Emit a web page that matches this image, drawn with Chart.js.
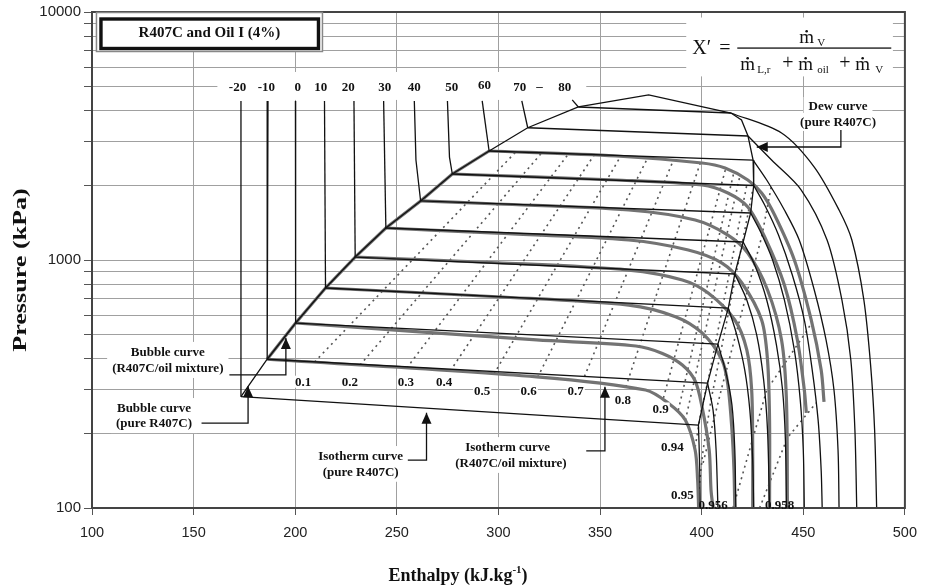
<!DOCTYPE html>
<html>
<head>
<meta charset="utf-8">
<script src="https://cdn.jsdelivr.net/npm/chart.js@4.4.1/dist/chart.umd.min.js"></script>
<style>
  html, body { margin: 0; padding: 0; background: #fff; }
  #wrap { width: 926px; height: 588px; }
</style>
</head>
<body>
<div id="wrap"><canvas id="chart" width="926" height="588"></canvas></div>
<script>
// ---- data: enthalpy (kJ/kg), pressure (kPa) ----
var temperatures = [-20, -10, 0, 10, 20, 30, 40, 50, 60, 70, 80];
var xTicks = [100, 150, 200, 250, 300, 350, 400, 450, 500];
var yGrid = [100, 200, 300, 400, 500, 600, 700, 800, 900,
             1000, 2000, 3000, 4000, 5000, 6000, 7000, 8000, 9000, 10000];
var yLabels = [100, 1000, 10000];

// pure R407C bubble points, one per temperature
var bubblePoints = [[173.3, 281], [186.2, 398], [200.2, 557], [214.9, 771], [229.5, 1028], [244.6, 1346],
                    [261.7, 1730], [277.3, 2222], [295.4, 2751], [314.4, 3414], [339.3, 4140]];
var criticalPoint = [373.9, 4630];
// pure R407C dew points, one per temperature
var dewPoints = [[398.4, 216], [402.9, 319], [408.0, 458], [413.1, 640], [416.3, 878], [420.4, 1182],
                 [424.1, 1547], [425.6, 1997], [425.3, 2530], [422.8, 3162], [414.4, 3915]];
var dewShoulder = [419.6, 3669];

// subcooled liquid isotherms (from the label row down to the bubble curve)
var liquidLines = [
  [[173.3, 4380], [173.3, 281]],
  [[186.6, 4380], [186.2, 398]],
  [[200.1, 4380], [200.2, 557]],
  [[214.4, 4380], [214.9, 771]],
  [[228.9, 4380], [229.5, 1028]],
  [[243.5, 4380], [244.6, 1346]],
  [[258.6, 4380], [259.4, 2530], [261.7, 1730]],
  [[274.9, 4380], [275.9, 2600], [277.3, 2222]],
  [[292.0, 4380], [295.4, 2751]],
  [[311.5, 4380], [314.4, 3414]],
  [[336.3, 4420], [339.3, 4140]]
];

// R407C/oil mixture isotherms, -10 .. 60 C
var mixIsotherms = [
  [[186.2, 398], [318.8, 338], [372.4, 299], [383.8, 264], [392.0, 226], [396.8, 171], [398.0, 130], [398.5, 100]],
  [[200.2, 557], [318.8, 476], [367.6, 450], [380.7, 420], [390.5, 377], [396.8, 325], [400.2, 255], [403.7, 171], [404.6, 118], [405.6, 100]],
  [[214.9, 771], [299.3, 711], [364.1, 658], [387.1, 591], [400.2, 508], [410.0, 395], [412.9, 313], [414.9, 206], [415.9, 142], [416.3, 100]],
  [[229.5, 1028], [299.3, 975], [364.1, 911], [390.5, 831], [403.2, 736], [416.3, 573], [422.2, 434], [424.6, 299], [425.1, 171], [425.1, 100]],
  [[244.6, 1346], [299.3, 1282], [364.1, 1204], [393.4, 1097], [410.0, 972], [419.8, 808], [429.5, 573], [432.4, 395], [433.4, 226], [433.4, 100]],
  [[261.7, 1730], [299.3, 1682], [364.1, 1591], [396.8, 1450], [412.9, 1261], [422.7, 1067], [432.4, 757], [439.3, 476], [441.7, 273], [442.2, 100]],
  [[277.3, 2222], [357.8, 2102], [400.2, 2006], [412.9, 1863], [422.7, 1636], [431.0, 1238], [440.7, 793], [447.1, 476], [450.5, 299], [451.5, 242]],
  [[295.4, 2751], [357.8, 2627], [400.2, 2461], [411.5, 2350], [422.7, 2102], [429.5, 1863], [435.9, 1519], [445.6, 1000], [453.9, 573], [458.8, 360], [460.2, 268]]
];

// superheated vapour isotherms, -20 .. 80 C
var vaporLines = [
  [[398.4, 216], [399.0, 149], [399.3, 100]],
  [[402.9, 319], [405.6, 248], [407.1, 171], [408.0, 100]],
  [[408.0, 458], [411.9, 353], [414.9, 260], [416.3, 171], [416.8, 100]],
  [[413.1, 640], [417.3, 498], [421.2, 360], [423.7, 248], [425.1, 156], [425.6, 100]],
  [[416.3, 878], [422.2, 690], [427.1, 498], [430.5, 328], [432.4, 206], [433.4, 100]],
  [[420.4, 1182], [426.1, 955], [432.0, 690], [436.8, 454], [439.8, 299], [441.2, 188], [441.7, 100]],
  [[424.1, 1547], [429.0, 1297], [434.9, 1000], [440.7, 690], [445.6, 434], [448.5, 273], [450.0, 171], [450.5, 100]],
  [[425.6, 1997], [431.0, 1667], [437.8, 1261], [444.6, 870], [450.5, 573], [454.4, 360], [457.3, 226], [458.8, 142], [459.3, 100]],
  [[425.3, 2530], [432.0, 2102], [440.7, 1591], [448.0, 1204], [455.4, 757], [461.2, 476], [465.1, 299], [467.1, 171], [467.6, 100]],
  [[422.8, 3162], [434.4, 2530], [449.0, 1915], [461.7, 1204], [469.0, 690], [473.4, 395], [475.4, 206], [476.3, 100]],
  [[414.4, 3915], [439.3, 3252], [455.4, 2371], [467.6, 1591], [473.9, 1204], [479.8, 690], [483.2, 370], [485.1, 206], [486.1, 100]]
];

// constant quality lines X'
var qualityLines = [
  [[209.5, 388], [308.5, 2726]],
  [[231.9, 377], [321.2, 2701]],
  [[254.9, 367], [334.4, 2676]],
  [[276.3, 357], [347.1, 2651]],
  [[297.8, 347], [360.2, 2627]],
  [[319.3, 337], [373.4, 2578]],
  [[341.2, 322], [386.1, 2530]],
  [[362.7, 308], [399.3, 2461]],
  [[381.2, 278], [411.9, 2350]],
  [[388.5, 248], [415.9, 2264]],
  [[392.0, 226], [418.8, 2181]],
  [[396.8, 176], [399.8, 248], [403.2, 328], [422.2, 2006]],
  [[398.3, 113], [400.7, 171], [404.6, 273], [407.6, 360], [425.1, 1915]],
  [[400.7, 152], [410.0, 308], [429.5, 1238], [434.4, 2006]],
  [[415.4, 100], [432.0, 299], [452.0, 522], [453.9, 557]],
  [[428.5, 100], [442.2, 192], [456.3, 265]]
];
var qualityNames = ['0.1', '0.2', '0.3', '0.4', '0.5', '0.6', '0.7', '0.8', '0.9', '0.94', '0.95', '0.956', '0.958'];

// ---- styles ----
var thin = { borderColor: '#111', borderWidth: 1.3, tension: 0 };
var thinCurve = { borderColor: '#111', borderWidth: 1.3, tension: 0.3 };
var thick = { borderColor: '#737373', borderWidth: 3.2, tension: 0.3 };
var dotted = { borderColor: '#555', borderWidth: 1.6, borderDash: [2, 4], tension: 0 };

function line(pts, style) {
  return Object.assign({
    data: pts.map(function (p) { return { x: p[0], y: p[1] }; }),
    showLine: true, pointRadius: 0, fill: false
  }, style);
}

var datasets = [];
var envelope = bubblePoints.concat([criticalPoint, dewPoints[10], dewShoulder], dewPoints.slice(0, 10).reverse());
datasets.push(line(envelope, thin));
liquidLines.forEach(function (l) { datasets.push(line(l, thin)); });
temperatures.forEach(function (t, i) { datasets.push(line([bubblePoints[i], dewPoints[i]], thin)); });
vaporLines.forEach(function (l) { datasets.push(line(l, thinCurve)); });
datasets.push(line(bubblePoints.slice(1, 9), Object.assign({}, thick, { tension: 0 })));
mixIsotherms.forEach(function (l) { datasets.push(line(l, thick)); });
qualityLines.forEach(function (l) { datasets.push(line(l, dotted)); });

// ---- annotations (positions in data units) ----
var SERIF = '"Liberation Serif", "Times New Roman", serif';
var notes = [
  { t: 'Bubble curve', h: 137.3, p: 426 },
  { t: '(R407C/oil mixture)', h: 137.3, p: 367 },
  { t: 'Bubble curve', h: 130.5, p: 253 },
  { t: '(pure R407C)', h: 130.5, p: 220 },
  { t: 'Isotherm curve', h: 232.2, p: 162 },
  { t: '(pure R407C)', h: 232.2, p: 140 },
  { t: 'Isotherm curve', h: 304.5, p: 176 },
  { t: '(R407C/oil mixture)', h: 306.1, p: 152 },
  { t: 'Dew curve', h: 467.1, p: 4178, top: true },
  { t: '(pure R407C)', h: 467.1, p: 3603, top: true }
];
var arrows = [
  [[468.5, 3343], [468.5, 2855], [427.1, 2855]],
  [[167.6, 344], [195.4, 344], [195.4, 485]],
  [[153.9, 220], [176.8, 220], [176.8, 310]],
  [[255.4, 156], [264.6, 156], [264.6, 242]],
  [[343.2, 170], [352.4, 170], [352.4, 308]]
];
var tempLabelPos = [[171.6, 5000], [185.8, 5000], [201.2, 5000], [212.6, 5000], [226.1, 5000], [244.0, 5000],
                    [258.6, 5000], [277.0, 5000], [293.1, 5076], [310.5, 5000], [332.6, 5000]];
var qualityLabelPos = [[203.9, 323], [226.9, 323], [254.5, 323], [273.3, 323], [292.0, 297], [314.9, 297],
                       [338.0, 297], [361.2, 273], [379.8, 252], [385.6, 176], [390.5, 113], [405.6, 103.5], [438.3, 103.5]];

function drawArrow(ctx, pts) {
  ctx.beginPath();
  ctx.moveTo(pts[0][0], pts[0][1]);
  for (var i = 1; i < pts.length; i++) ctx.lineTo(pts[i][0], pts[i][1]);
  ctx.stroke();
  var a = pts[pts.length - 2], b = pts[pts.length - 1];
  var ang = Math.atan2(b[1] - a[1], b[0] - a[0]);
  var L = 11, W = 5;
  ctx.beginPath();
  ctx.moveTo(b[0], b[1]);
  ctx.lineTo(b[0] - L * Math.cos(ang) + W * Math.sin(ang), b[1] - L * Math.sin(ang) - W * Math.cos(ang));
  ctx.lineTo(b[0] - L * Math.cos(ang) - W * Math.sin(ang), b[1] - L * Math.sin(ang) + W * Math.cos(ang));
  ctx.closePath();
  ctx.fill();
}

function dotM(ctx, x, base, size) {
  ctx.font = size + 'px ' + SERIF;
  ctx.fillText('m', x, base);
  var w = ctx.measureText('m').width;
  ctx.beginPath();
  ctx.arc(x + w / 2, base - size * 0.62, 1.3, 0, Math.PI * 2);
  ctx.fill();
}

var overlay = {
  id: 'overlay',
  beforeDatasetsDraw: function (chart) {
    var ctx = chart.ctx, xs = chart.scales.x, ys = chart.scales.y;
    var X = function (h) { return xs.getPixelForValue(h); };
    var Y = function (p) { return ys.getPixelForValue(p); };
    ctx.save();
    ctx.fillStyle = '#fff';
    // label row and formula backgrounds
    ctx.fillRect(X(161.7), Y(5730), X(343.2) - X(161.7), Y(4420) - Y(5730));
    ctx.fillRect(X(392.4), Y(9500), X(494.1) - X(392.4), Y(5500) - Y(9500));
    ctx.font = 'bold 13px ' + SERIF;
    notes.forEach(function (n) {
      if (n.top) return;
      var w = ctx.measureText(n.t).width;
      ctx.fillRect(X(n.h) - w / 2 - 5, Y(n.p) - 10, w + 10, 20);
    });
    ctx.restore();
  },
  afterDatasetsDraw: function (chart) {
    var ctx = chart.ctx, xs = chart.scales.x, ys = chart.scales.y, a = chart.chartArea;
    var X = function (h) { return xs.getPixelForValue(h); };
    var Y = function (p) { return ys.getPixelForValue(p); };
    ctx.save();
    // frame
    ctx.strokeStyle = '#444';
    ctx.lineWidth = 2;
    ctx.strokeRect(a.left, a.top, a.right - a.left, a.bottom - a.top);

    ctx.fillStyle = '#111';
    ctx.strokeStyle = '#111';
    ctx.textAlign = 'center';
    ctx.textBaseline = 'middle';
    ctx.font = 'bold 13px ' + SERIF;

    // dew label covers the curves behind it
    notes.forEach(function (n) {
      if (!n.top) return;
      var w = ctx.measureText(n.t).width;
      ctx.fillStyle = '#fff';
      ctx.fillRect(X(n.h) - w / 2 - 5, Y(n.p) - 9, w + 10, 18);
    });
    ctx.fillStyle = '#111';
    notes.forEach(function (n) { ctx.fillText(n.t, X(n.h), Y(n.p) + 1); });

    temperatures.forEach(function (t, i) {
      ctx.fillText(String(t), X(tempLabelPos[i][0]), Y(tempLabelPos[i][1]) + 1);
    });
    ctx.fillText('\u2013', X(320.2), Y(5000));

    qualityNames.forEach(function (q, i) {
      var x = X(qualityLabelPos[i][0]), y = Y(qualityLabelPos[i][1]);
      if (i < 11) {
        var w = ctx.measureText(q).width;
        ctx.fillStyle = '#fff';
        ctx.fillRect(x - w / 2 - 1, y - 6, w + 2, 12);
        ctx.fillStyle = '#111';
      }
      ctx.fillText(q, x, y + 1);
    });

    ctx.lineWidth = 1.3;
    arrows.forEach(function (ar) {
      drawArrow(ctx, ar.map(function (p) { return [X(p[0]), Y(p[1])]; }));
    });

    // title box
    var cx = X(157.8), cy = Y(8267);
    ctx.fillStyle = '#fff';
    ctx.fillRect(cx - 113, cy - 20, 226, 39);
    ctx.strokeStyle = '#888';
    ctx.lineWidth = 1.5;
    ctx.strokeRect(cx - 113, cy - 20, 226, 39);
    ctx.strokeStyle = '#111';
    ctx.lineWidth = 3.4;
    ctx.strokeRect(cx - 108.5, cy - 13.5, 217.5, 29.5);
    ctx.fillStyle = '#111';
    ctx.font = 'bold 15px ' + SERIF;
    ctx.fillText('R407C and Oil I (4%)', cx, cy + 1);

    // formula X' = m_V / (m_L,r + m_oil + m_V)
    var fx = X(455.4), fy = Y(7157);
    ctx.textAlign = 'left';
    ctx.textBaseline = 'alphabetic';
    ctx.font = '20px ' + SERIF;
    ctx.fillText('X\u2032', fx - 122, fy + 6);
    ctx.fillText('=', fx - 95, fy + 6);
    ctx.fillRect(fx - 77, fy - 0.6, 154, 1.3);
    dotM(ctx, fx - 15, fy - 5, 19);
    ctx.font = '11px ' + SERIF;
    ctx.fillText('V', fx + 3, fy - 2);
    dotM(ctx, fx - 74, fy + 22, 19);
    ctx.font = '11px ' + SERIF;
    ctx.fillText('L,r', fx - 57, fy + 25);
    ctx.font = '20px ' + SERIF;
    ctx.fillText('+', fx - 32, fy + 21);
    dotM(ctx, fx - 16, fy + 22, 19);
    ctx.font = '11px ' + SERIF;
    ctx.fillText('oil', fx + 3, fy + 25);
    ctx.font = '20px ' + SERIF;
    ctx.fillText('+', fx + 25, fy + 21);
    dotM(ctx, fx + 41, fy + 22, 19);
    ctx.font = '11px ' + SERIF;
    ctx.fillText('V', fx + 61, fy + 25);

    // axis titles
    ctx.font = 'bold 18px ' + SERIF;
    var t1 = 'Enthalpy (kJ.kg', t3 = ')';
    var w1 = ctx.measureText(t1).width, w3 = ctx.measureText(t3).width;
    ctx.font = 'bold 11px ' + SERIF;
    var w2 = ctx.measureText('-1').width;
    var sx = 458 - (w1 + w2 + w3) / 2, by = 581;
    ctx.font = 'bold 18px ' + SERIF;
    ctx.fillText(t1, sx, by);
    ctx.fillText(t3, sx + w1 + w2, by);
    ctx.font = 'bold 11px ' + SERIF;
    ctx.fillText('-1', sx + w1, by - 8);

    // the scanned y title is drawn stretched along its length
    ctx.translate(21, 270);
    ctx.rotate(-Math.PI / 2);
    ctx.scale(1.45, 1);
    ctx.textAlign = 'center';
    ctx.textBaseline = 'middle';
    ctx.font = 'bold 18px ' + SERIF;
    ctx.fillText('Pressure (kPa)', 0, 0);
    ctx.restore();
  }
};

new Chart(document.getElementById('chart'), {
  type: 'scatter',
  data: { datasets: datasets },
  options: {
    responsive: false,
    animation: false,
    devicePixelRatio: 1,
    layout: { padding: { left: 0, right: 14, top: 12, bottom: 0 } },
    plugins: { legend: { display: false }, tooltip: { enabled: false } },
    elements: { point: { radius: 0 } },
    scales: {
      x: {
        type: 'linear', min: 100, max: 500,
        afterBuildTicks: function (s) { s.ticks = xTicks.map(function (v) { return { value: v }; }); },
        afterFit: function (s) { s.height = 80; },
        ticks: { font: { family: 'Liberation Sans', size: 14.5 }, color: '#222', padding: 9, maxRotation: 0 },
        grid: { color: '#a0a0a0', lineWidth: 1, tickLength: 7, tickColor: '#555' },
        border: { display: false }
      },
      y: {
        type: 'logarithmic', min: 100, max: 10000,
        afterBuildTicks: function (s) { s.ticks = yGrid.map(function (v) { return { value: v }; }); },
        afterFit: function (s) { s.width = 92; },
        ticks: {
          autoSkip: false, padding: 3, color: '#222',
          font: { family: 'Liberation Sans', size: 15 },
          callback: function (v) { return yLabels.indexOf(v) >= 0 ? String(v) : ''; }
        },
        grid: { color: '#a0a0a0', lineWidth: 1, tickLength: 8, tickColor: '#555' },
        border: { display: false }
      }
    }
  },
  plugins: [overlay]
});
</script>
</body>
</html>
